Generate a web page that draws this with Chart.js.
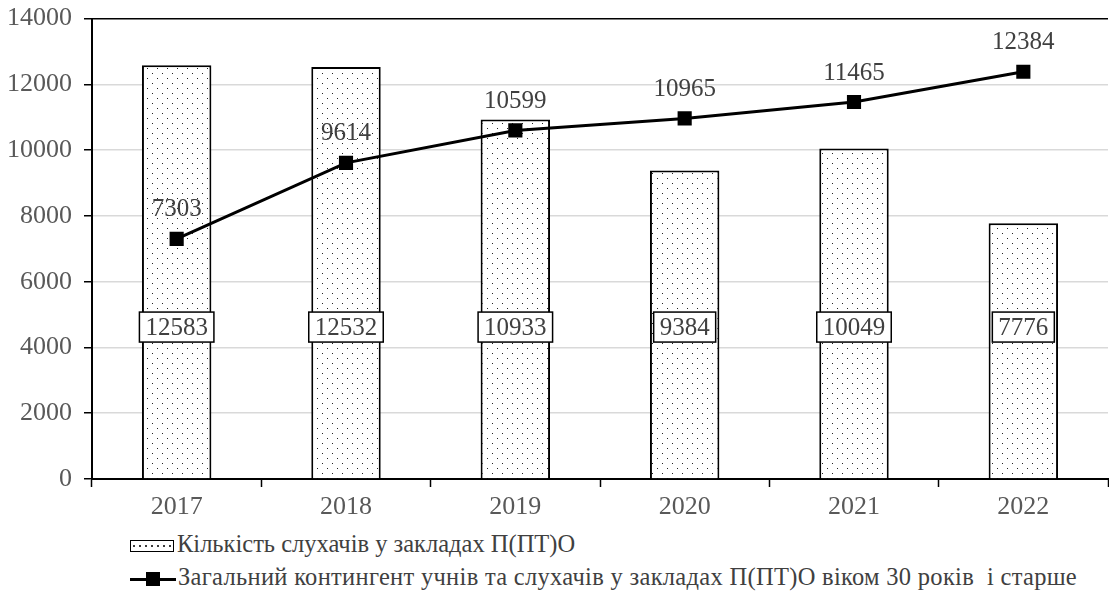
<!DOCTYPE html>
<html><head><meta charset="utf-8">
<script src="https://cdn.jsdelivr.net/npm/chart.js@4/dist/chart.umd.min.js"></script>
<style>
html,body{margin:0;padding:0;background:#fff;overflow:hidden;}
#wrap{position:relative;width:1109px;height:594px;overflow:hidden;}
#c{position:absolute;left:0;top:-9px;}
.leg{position:absolute;left:130px;font-family:"Liberation Serif",serif;font-size:24.5px;color:#404040;white-space:nowrap;line-height:26px;}
.box{display:inline-block;vertical-align:middle;width:42px;height:10px;border:1.5px solid #000;margin-right:3px;
 background-image:radial-gradient(circle,#333 0.7px,transparent 0.9px);background-size:6px 10px;background-position:0 0;}
.ln{display:inline-block;vertical-align:middle;position:relative;width:46px;height:14px;margin-right:2px;}
.ln:before{content:"";position:absolute;left:0;right:0;top:6px;height:3px;background:#000;}
.ln:after{content:"";position:absolute;left:16px;top:0;width:14px;height:14px;background:#000;}
</style></head>
<body><div id="wrap"><canvas id="c" width="1118" height="539"></canvas>
<div class="leg" style="top:531px"><span class="box"></span>Кількість слухачів у закладах П(ПТ)О</div>
<div class="leg" style="top:564px;letter-spacing:0.3px"><span class="ln"></span>Загальний контингент учнів та слухачів у закладах П(ПТ)О віком 30 років&nbsp; і старше</div>
</div>
<script>
const years = ['2017','2018','2019','2020','2021','2022'];
const listeners = [12583, 12532, 10933, 9384, 10049, 7776];
const totalContingent = [7303, 9614, 10599, 10965, 11465, 12384];
const yTicks = [0,2000,4000,6000,8000,10000,12000,14000];
const barLabelLevel = 4620;

function dotPattern(){
  const p = document.createElement('canvas'); p.width = 10; p.height = 10;
  const g = p.getContext('2d');
  g.fillStyle = '#fff'; g.fillRect(0,0,10,10);
  g.fillStyle = '#222';
  g.fillRect(2,2,1,1); g.fillRect(7,7,1,1);
  return g.createPattern(p,'repeat');
}
const FONT = '"Liberation Serif", serif';

const labelsPlugin = {
  id:'labels',
  afterDatasetsDraw(chart){
    const ctx = chart.ctx;
    const x = chart.scales.x, y = chart.scales.y;
    ctx.save();
    ctx.font = '25px ' + FONT;
    ctx.textAlign = 'center'; ctx.textBaseline = 'middle';
    const ly = y.getPixelForValue(barLabelLevel);
    listeners.forEach((v,i)=>{
      const cx = x.getPixelForValue(i);
      const t = String(v);
      const w = ctx.measureText(t).width + 12;
      ctx.fillStyle = '#fff';
      ctx.fillRect(cx-w/2, ly-15, w, 30);
      ctx.strokeStyle = '#000'; ctx.lineWidth = 1.5;
      ctx.strokeRect(cx-w/2, ly-15, w, 30);
      ctx.fillStyle = '#404040';
      ctx.fillText(t, cx, ly+1);
    });
    totalContingent.forEach((v,i)=>{
      const cx = x.getPixelForValue(i);
      const py = y.getPixelForValue(v);
      ctx.fillStyle = '#404040';
      ctx.fillText(String(v), cx, py-29);
    });
    ctx.restore();
  }
};

new Chart(document.getElementById('c'), {
  data:{
    labels: years,
    datasets:[
      {type:'line', label:'Загальний контингент учнів та слухачів у закладах П(ПТ)О віком 30 років  і старше',
       data: totalContingent, borderColor:'#000', borderWidth:3, backgroundColor:'#000',
       pointStyle:'rect', pointRadius:10, pointHoverRadius:10, pointBorderWidth:0, tension:0, order:0},
      {type:'bar', label:'Кількість слухачів у закладах П(ПТ)О', data: listeners,
       backgroundColor: dotPattern(), borderColor:'#000', borderWidth:2,
       categoryPercentage:1.0, barPercentage:0.41, order:1}
    ]
  },
  options:{
    responsive:false, animation:false,
    layout:{padding:{top:5,left:0,right:0,bottom:0}},
    plugins:{legend:{display:false}, tooltip:{enabled:false}},
    scales:{
      x:{
        offset:true,
        grid:{offset:true, drawOnChartArea:false, tickColor:'#000', tickLength:8, tickWidth:1.5},
        border:{color:'#000', width:2},
        ticks:{font:{family:FONT,size:26}, color:'#595959', padding:5},
        afterFit(s){ s.height = 51; }
      },
      y:{
        min:0, max:14000,
        afterBuildTicks(s){ s.ticks = yTicks.map(v=>({value:v})); },
        grid:{color:(c)=> c.tick && c.tick.value===14000 ? '#000' : '#d9d9d9', lineWidth:1.5, tickColor:'#000', tickLength:8},
        border:{color:'#000', width:2},
        ticks:{font:{family:FONT,size:26}, color:'#595959', padding:12, callback:(v)=>String(v)},
        afterFit(s){ s.width = 92; }
      }
    }
  },
  plugins:[labelsPlugin]
});
</script></body></html>
